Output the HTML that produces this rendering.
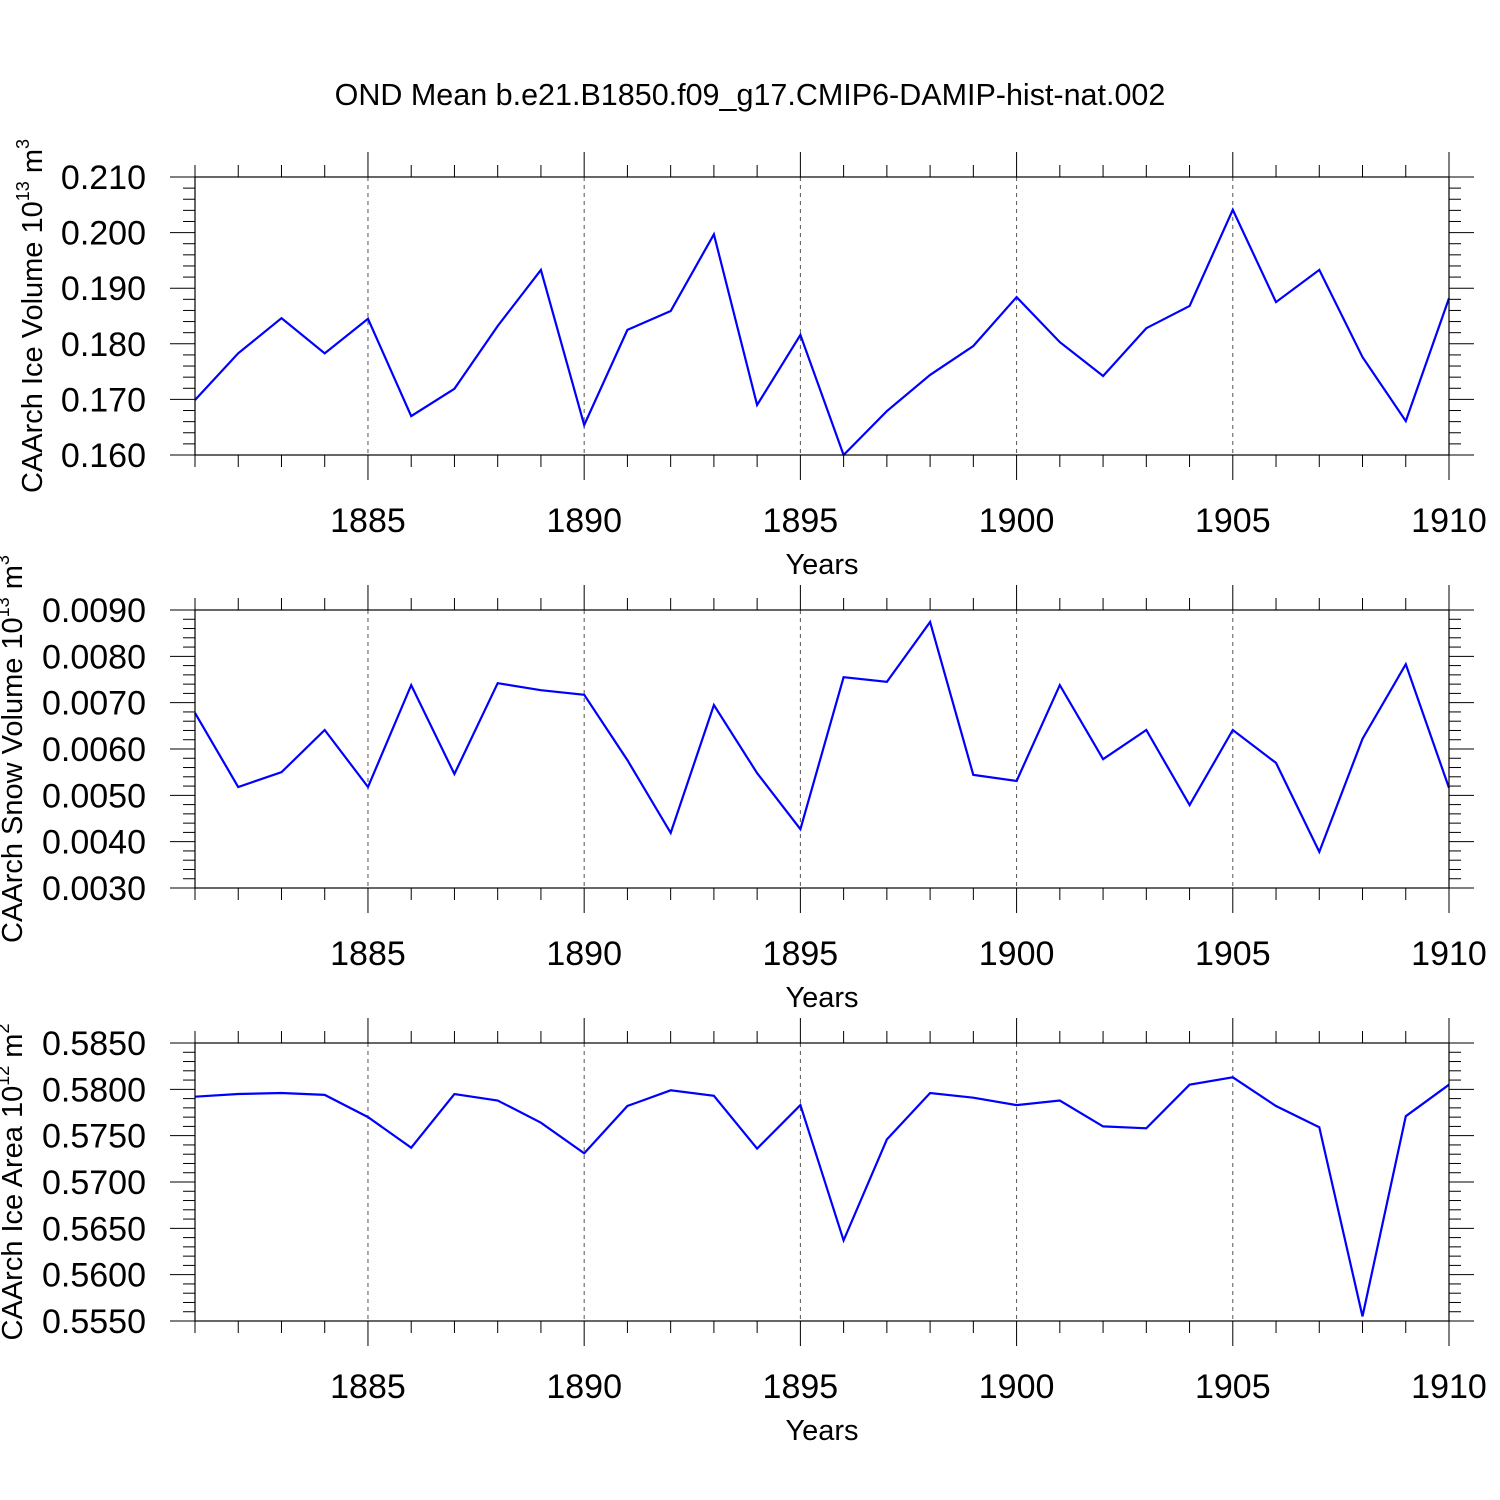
<!DOCTYPE html>
<html><head><meta charset="utf-8"><style>
html,body{margin:0;padding:0;background:#fff;}
svg{display:block;font-family:"Liberation Sans",sans-serif;}
</style></head><body>
<svg id="chart" width="1500" height="1500" viewBox="0 0 1500 1500" xmlns="http://www.w3.org/2000/svg">
<rect width="1500" height="1500" fill="#fff"/>
<text x="750" y="105" font-size="30.5" text-anchor="middle">OND Mean b.e21.B1850.f09_g17.CMIP6-DAMIP-hist-nat.002</text>
</svg>
<script>
const years = [1881,1882,1883,1884,1885,1886,1887,1888,1889,1890,1891,1892,1893,1894,1895,1896,1897,1898,1899,1900,1901,1902,1903,1904,1905,1906,1907,1908,1909,1910];
const iceVolume = [0.1699,0.1783,0.1846,0.1783,0.1845,0.1670,0.1719,0.1832,0.1933,0.1654,0.1825,0.1859,0.1997,0.1690,0.1816,0.1600,0.1679,0.1744,0.1796,0.1884,0.1803,0.1742,0.1828,0.1868,0.2041,0.1875,0.1933,0.1776,0.1661,0.1882];
const snowVolume = [0.00678,0.00518,0.00550,0.00641,0.00518,0.00738,0.00546,0.00742,0.00727,0.00717,0.00576,0.00419,0.00695,0.00548,0.00427,0.00755,0.00745,0.00874,0.00544,0.00531,0.00738,0.00578,0.00641,0.00479,0.00641,0.00570,0.00378,0.00622,0.00783,0.00516];
const iceArea = [0.5792,0.5795,0.5796,0.5794,0.5770,0.5737,0.5795,0.5788,0.5764,0.5731,0.5782,0.5799,0.5793,0.5736,0.5783,0.5637,0.5746,0.5796,0.5791,0.5783,0.5788,0.5760,0.5758,0.5805,0.5813,0.5782,0.5759,0.5555,0.5771,0.5805];
const xTicks = [1885,1890,1895,1900,1905,1910];
const iceVolTicks = [0.160,0.170,0.180,0.190,0.200,0.210];
const snowTicks = [0.0030,0.0040,0.0050,0.0060,0.0070,0.0080,0.0090];
const areaTicks = [0.5550,0.5600,0.5650,0.5700,0.5750,0.5800,0.5850];

const NS="http://www.w3.org/2000/svg";
const svg=document.getElementById('chart');
const X0=195,X1=1449,xmin=1881,xmax=1910;
function xs(v){return X0+(v-xmin)/(xmax-xmin)*(X1-X0);}
function mk(tag,attrs,parent){const e=document.createElementNS(NS,tag);for(const k in attrs)e.setAttribute(k,attrs[k]);(parent||svg).appendChild(e);return e;}

function panel(key,top,vals,ticks,dec,titleMain,exp,unit,tx0){
  const bot=top+278, ymin=ticks[0], ymax=ticks[ticks.length-1];
  const ys=v=>bot-(v-ymin)/(ymax-ymin)*(bot-top);
  const g=mk('g',{});
  
  
  xTicks.forEach(t=>{ if(t<xmax){const l=mk('line',{x1:xs(t),x2:xs(t),y1:top,y2:bot,stroke:'#555','stroke-width':1,'stroke-dasharray':'4,4'},g);
    
    }});
  for(let yr=xmin;yr<=xmax;yr++){
    const major=xTicks.includes(yr); const L=major?25:12;
    mk('line',{x1:xs(yr),x2:xs(yr),y1:top-L,y2:top,stroke:'#000','stroke-width':1},g);
    mk('line',{x1:xs(yr),x2:xs(yr),y1:bot,y2:bot+L,stroke:'#000','stroke-width':1},g);
  }
  const step=(ticks[1]-ticks[0])/5;
  for(let i=0;i<(ticks.length-1)*5+1;i++){
    const v=ymin+i*step; const y=ys(v); const major=i%5===0; const L=major?25:12;
    mk('line',{x1:X0-L,x2:X0,y1:y,y2:y,stroke:'#000','stroke-width':1},g);
    mk('line',{x1:X1,x2:X1+L,y1:y,y2:y,stroke:'#000','stroke-width':1},g);
  }
  ticks.forEach(t=>{const tx=mk('text',{x:146,y:ys(t)+12,'font-size':34,'text-anchor':'end'},g);tx.textContent=t.toFixed(dec);
    
    });
  xTicks.forEach(t=>{const tx=mk('text',{x:xs(t),y:bot+77,'font-size':34,'text-anchor':'middle'},g);tx.textContent=t;
    
    });
  const xt=mk('text',{x:822,y:bot+119,'font-size':29,'text-anchor':'middle'},g);xt.textContent='Years';
  
  
  const cy=(top+bot)/2;
  const yt=mk('text',{x:0,y:0,'font-size':29,'text-anchor':'middle',transform:`translate(${tx0},${cy}) rotate(-90)`},g);
  
  
  const a=mk('tspan',{},yt);a.textContent=titleMain+' 10';
  const b=mk('tspan',{'font-size':18,dy:-13},yt);b.textContent=exp;
  const c=mk('tspan',{dy:13},yt);c.textContent=' m';
  const d=mk('tspan',{'font-size':18,dy:-13},yt);d.textContent=unit;
  const pts=vals.map((v,i)=>xs(years[i]).toFixed(1)+','+ys(v).toFixed(1)).join(' ');
  const pl=mk('polyline',{points:pts,fill:'none',stroke:'#0000ff','stroke-width':2.2,'stroke-linejoin':'miter'},g);
  
  
  const fr=mk('rect',{x:X0,y:top,width:X1-X0,height:bot-top,fill:'none',stroke:'#000','stroke-width':1.2},g);
  
  
}
panel('ice-volume',177,iceVolume,iceVolTicks,3,'CAArch Ice Volume','13','3',42);
panel('snow-volume',610,snowVolume,snowTicks,4,'CAArch Snow Volume','13','3',22);
panel('ice-area',1043,iceArea,areaTicks,4,'CAArch Ice Area','12','2',22);
</script>
</body></html>
